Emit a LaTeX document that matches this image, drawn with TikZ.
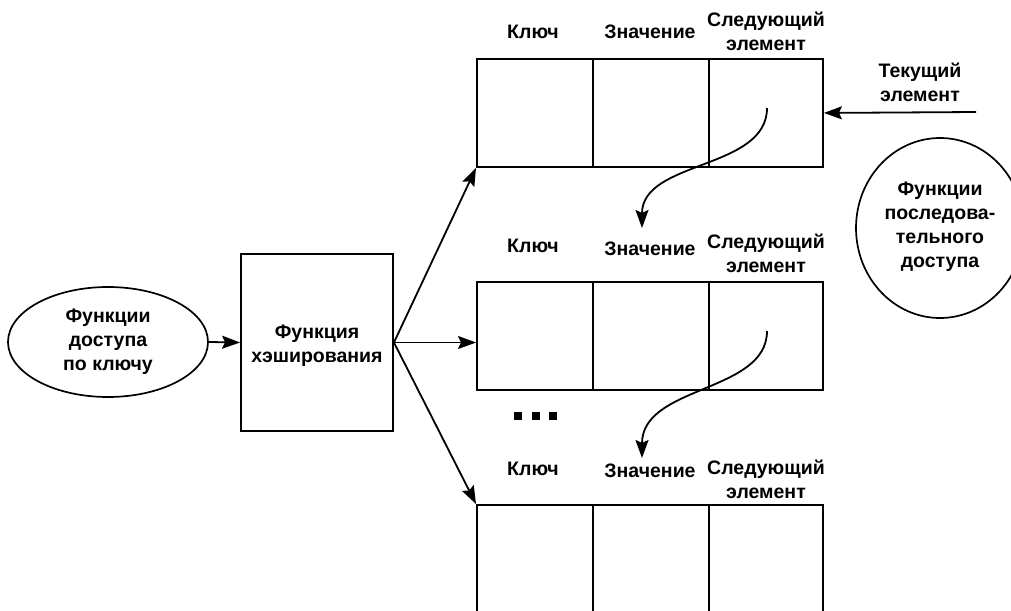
\documentclass[tikz,border=0pt]{standalone}
\usepackage{fontspec}
\setmainfont{Liberation Sans}
\usetikzlibrary{arrows.meta,shapes.geometric}
\begin{document}
\begin{tikzpicture}[x=1pt,y=-1pt,
  lbl/.style={font=\bfseries\fontsize{19.5}{24}\selectfont, align=center, inner sep=0pt},
  cell/.style={draw, line width=1.9pt, minimum width=116pt, minimum height=108pt, inner sep=0pt, anchor=north west},
  hashbox/.style={draw, line width=1.9pt, minimum width=152pt, minimum height=177pt, inner sep=0pt},
  oval/.style={draw, ellipse, line width=1.7pt, inner sep=0pt},
  arr/.style={line width=1.8pt, -{Stealth[length=18pt,width=13pt,inset=3pt]}},
  sq/.style={fill, minimum size=8pt, inner sep=0pt}
  ]
\useasboundingbox (0,0) rectangle (1011,610);
\clip (0,0) rectangle (1011,610);

% rows of cells
\node[cell] (r1a) at (476,58) {};
\node[cell] (r1b) at (592,58) {};
\node[cell, minimum width=114pt] (r1c) at (708,58) {};
\node[cell] (r2a) at (476,281) {};
\node[cell] (r2b) at (592,281) {};
\node[cell, minimum width=114pt] (r2c) at (708,281) {};
\node[cell] (r3a) at (476,504) {};
\node[cell] (r3b) at (592,504) {};
\node[cell, minimum width=114pt] (r3c) at (708,504) {};

% column labels
\node[lbl] (k1) at (533,32) {Ключ};
\node[lbl] (v1) at (650,32) {Значение};
\node[lbl] (n1) at (766,31) {Следующий\\элемент};
\node[lbl] (k2) at (533,246) {Ключ};
\node[lbl] (v2) at (650,249) {Значение};
\node[lbl] (n2) at (766,253) {Следующий\\элемент};
\node[lbl] (k3) at (533,469) {Ключ};
\node[lbl] (v3) at (650,471) {Значение};
\node[lbl] (n3) at (766,479) {Следующий\\элемент};

% dots
\node[sq] (d1) at (518,416) {};
\node[sq] (d2) at (536,416) {};
\node[sq] (d3) at (553,416) {};

% left part
\node[oval, minimum width=200pt, minimum height=110pt] (kf) at (108,342) {};
\node[lbl] (kft) at (108,342) {Функции\\доступа\\по ключу};
\node[hashbox] (hash) at (317,342.5) {};
\node[lbl] (hasht) at (317,346) {Функция\\хэширования};

% right part
\node[lbl] (cur) at (920,82) {Текущий\\элемент};
\coordinate (curs) at (976,112);
\node[oval, minimum width=168pt, minimum height=180pt] (sf) at (940,228) {};
\node[lbl] (sft) at (940,227) {Функции\\последова-\\тельного\\доступа};

% connectors
\draw[arr] (kf.east) -- (hash.west);
\draw[arr] (hash.east) -- (r1a.south west);
\draw[arr] (hash.east) -- (hash.east -| r2a.west);
\draw[arr] (hash.east) -- (r3a.north west);
\draw[arr] (curs) -- (r1c.east);

\coordinate (c1s) at (767,108);
\coordinate (c1e) at (642,228);
\coordinate (c2s) at (767,331);
\coordinate (c2e) at (642,458);
\draw[arr] (c1s) .. controls (767,170) and (642,160) .. (c1e);
\draw[arr] (c2s) .. controls (767,393) and (642,385) .. (c2e);
\end{tikzpicture}
\end{document}
